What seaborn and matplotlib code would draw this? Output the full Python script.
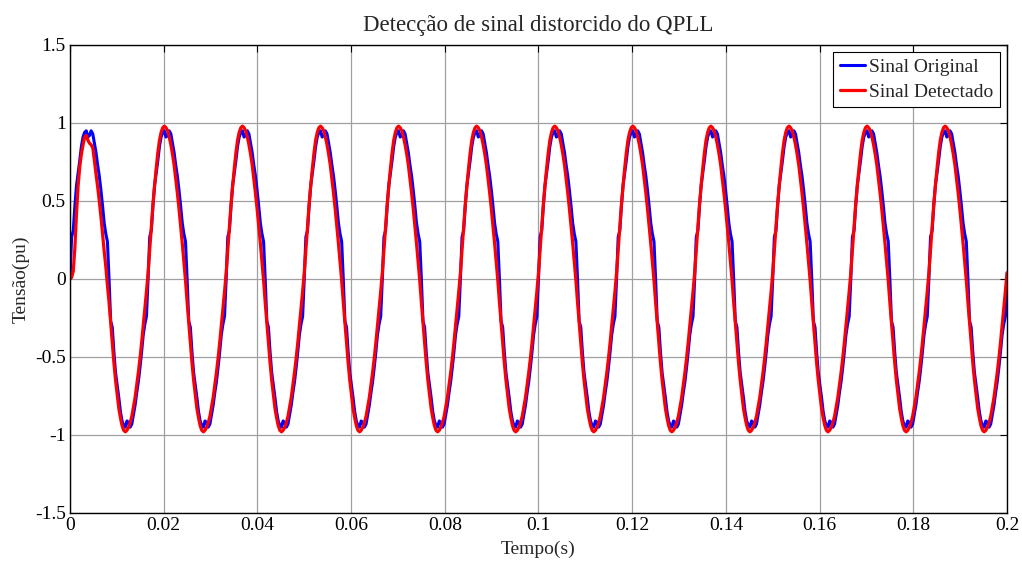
import numpy as np
import pandas as pd
import matplotlib
matplotlib.use("Agg")
import matplotlib.pyplot as plt
import seaborn as sns

# one cycle (0 .. 352.5 deg, 7.5 deg steps), 60 Hz
blue_half = [0.00, 0.27, 0.31, 0.47, 0.60, 0.68, 0.76, 0.85, 0.91, 0.94, 0.95, 0.91,
             0.92, 0.95, 0.93, 0.87, 0.81, 0.73, 0.66, 0.57, 0.47, 0.36, 0.29, 0.24]
red_cycle = [0.04, 0.19, 0.34, 0.48, 0.60, 0.71, 0.81, 0.89, 0.94, 0.97, 0.98, 0.97,
             0.95, 0.91, 0.86, 0.80, 0.73, 0.64, 0.55, 0.45, 0.34, 0.23, 0.11, -0.01,
             -0.15, -0.28, -0.41, -0.54, -0.65, -0.74, -0.83, -0.89, -0.94, -0.97, -0.98, -0.97,
             -0.95, -0.92, -0.88, -0.82, -0.76, -0.68, -0.60, -0.51, -0.41, -0.30, -0.19, -0.08]
# start-up of the detected signal (first half cycle)
red_start = [0.00, 0.01, 0.05, 0.20, 0.42, 0.60, 0.72, 0.80, 0.86, 0.91, 0.92, 0.89,
             0.87, 0.86, 0.84, 0.76, 0.67, 0.59, 0.50, 0.40, 0.29, 0.18, 0.08, -0.04]
n_cycles = 12

xticks = [0, 0.02, 0.04, 0.06, 0.08, 0.1, 0.12, 0.14, 0.16, 0.18, 0.2]
xticklabels = ['0', '0.02', '0.04', '0.06', '0.08', '0.1', '0.12', '0.14', '0.16', '0.18', '0.2']
yticks = [-1.5, -1, -0.5, 0, 0.5, 1, 1.5]
yticklabels = ['-1.5', '-1', '-0.5', '0', '0.5', '1', '1.5']

blue_cycle = blue_half + [-v for v in blue_half]
blue = blue_cycle * n_cycles + [blue_half[0]]
red = red_start + red_cycle[24:] + red_cycle * (n_cycles - 1) + [red_cycle[0]]
t = np.linspace(0, 0.2, len(blue))

df = pd.DataFrame({'t': t, 'original': blue, 'detectado': red})

sns.set_theme(style="white")
plt.rcParams['font.family'] = ['Liberation Serif', 'DejaVu Serif']

fig = plt.figure(figsize=(10.22, 5.61), dpi=100)
ax = fig.add_axes([0.0685, 0.0856, 0.9168, 0.8342])

sns.lineplot(data=df, x='t', y='original', color='blue', lw=2.2, label='Sinal Original', ax=ax, sort=False)
sns.lineplot(data=df, x='t', y='detectado', color='red', lw=2.3, label='Sinal Detectado', ax=ax, sort=False)

ax.set_xlim(0, 0.2)
ax.set_ylim(-1.5, 1.5)
ax.set_xticks(xticks)
ax.set_xticklabels(xticklabels)
ax.set_yticks(yticks)
ax.set_yticklabels(yticklabels)
ax.grid(True, color='#a0a0a0', lw=0.9)
ax.tick_params(direction='in', top=True, right=True, length=5, width=0.8,
               labelsize=14, colors='black', pad=3)
for s in ax.spines.values():
    s.set_color('black')
    s.set_linewidth(1.0)

ax.set_title('Detecção de sinal distorcido do QPLL', fontsize=16.5, pad=10)
ax.set_xlabel('Tempo(s)', fontsize=14, labelpad=5)
ax.set_ylabel('Tensão(pu)', fontsize=14, labelpad=4)

leg = ax.legend(loc='upper right', fontsize=14, frameon=True, fancybox=False,
                framealpha=1, edgecolor='black', handlelength=1.3,
                borderaxespad=0.35, borderpad=0.35, labelspacing=0.35, handletextpad=0.2)
leg.get_frame().set_linewidth(0.8)

fig.savefig('out.png', dpi=100)
